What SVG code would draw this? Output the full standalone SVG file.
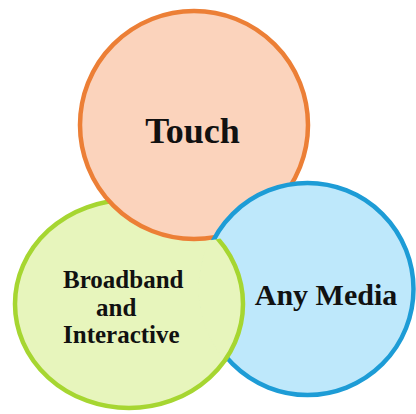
<svg xmlns="http://www.w3.org/2000/svg" width="416" height="414" viewBox="0 0 416 414">
  <style>
    .lbl { font-family: "Liberation Serif", "Times New Roman", serif; font-weight: bold; fill: #111111; }
    .touch { fill: #FBD3BC; stroke: #EC7F36; stroke-width: 4.5; }
    .broad { fill: #E7F5BC; stroke: #A6D631; stroke-width: 4.5; }
    .media { fill: #BEE8FB; stroke: #1D9CD6; stroke-width: 4.5; }
  </style>
  <defs>
    <!-- area of the blue circle that lies outside the orange one -->
    <mask id="overBlue" maskUnits="userSpaceOnUse" x="0" y="0" width="416" height="414">
      <circle cx="307.5" cy="289" r="109" fill="#fff"/>
      <circle cx="194" cy="125" r="116.5" fill="#000"/>
    </mask>
  </defs>

  <!-- three overlapping circles, each over the next in turn -->
  <g id="broadband">
    <ellipse class="broad" cx="129" cy="304" rx="114" ry="104"/>
  </g>
  <g id="touch">
    <circle class="touch" cx="194" cy="125" r="114"/>
  </g>
  <g id="any-media">
    <circle class="media" cx="307.5" cy="289" r="106"/>
  </g>
  <g id="broadband-over-media" mask="url(#overBlue)">
    <ellipse class="broad" cx="129" cy="304" rx="114" ry="104"/>
  </g>

  <g id="labels">
    <text class="lbl" x="192.5" y="143" font-size="36" text-anchor="middle">Touch</text>
    <text class="lbl" x="63" y="288" font-size="25">Broadband</text>
    <text class="lbl" x="96" y="316" font-size="25">and</text>
    <text class="lbl" x="63" y="343" font-size="25">Interactive</text>
    <text class="lbl" x="326" y="305" font-size="30" text-anchor="middle">Any Media</text>
  </g>
</svg>
